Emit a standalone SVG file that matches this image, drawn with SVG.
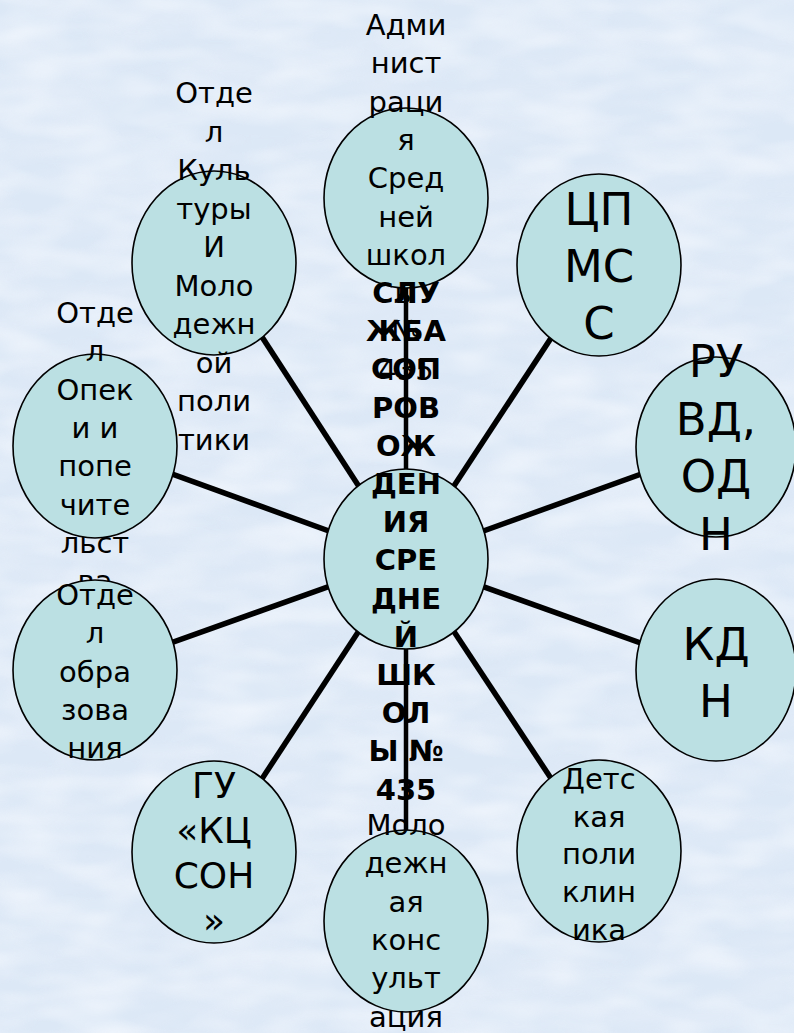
<svg xmlns="http://www.w3.org/2000/svg" width="794" height="1033" viewBox="0 0 794 1033">
<defs>
<filter id="tex" x="0" y="0" width="100%" height="100%">
<feTurbulence type="fractalNoise" baseFrequency="0.01 0.035" numOctaves="3" seed="7" result="n"/>
<feColorMatrix in="n" type="matrix" values="0 0 0 0 0.80  0 0 0 0 0.86  0 0 0 0 0.95  0 0 0 1.6 -0.55"/>
</filter>
<filter id="tex2" x="0" y="0" width="100%" height="100%">
<feTurbulence type="fractalNoise" baseFrequency="0.015 0.04" numOctaves="2" seed="3" result="n"/>
<feColorMatrix in="n" type="matrix" values="0 0 0 0 0.93  0 0 0 0 0.96  0 0 0 0 1  0 0 0 1.6 -0.6"/>
</filter>
<style>
.node{fill:#bbe0e3;stroke:#000;stroke-width:1.6}
.t{font-family:"DejaVu Sans","Liberation Sans",sans-serif;font-size:29px;fill:#000;text-anchor:middle}
.b{font-weight:bold}
.big{font-size:45px}
.mid{font-size:36px}
.con line{stroke:#000;stroke-width:5.5}
</style>
</defs>
<rect width="794" height="1033" fill="#dce8f6"/>
<rect width="794" height="1033" filter="url(#tex)" opacity="0.7"/>
<rect width="794" height="1033" filter="url(#tex2)" opacity="0.7"/>
<g class="con">
<line x1="406" y1="559" x2="214" y2="263"/>
<line x1="406" y1="559" x2="599" y2="265"/>
<line x1="406" y1="559" x2="716" y2="447"/>
<line x1="406" y1="559" x2="716" y2="670"/>
<line x1="406" y1="559" x2="599" y2="851"/>
<line x1="406" y1="559" x2="214" y2="852"/>
<line x1="406" y1="559" x2="95" y2="446"/>
<line x1="406" y1="559" x2="95" y2="670"/>
<line x1="406" y1="198" x2="406" y2="921" style="stroke-width:4.5"/>
</g>
<g id="admin">
<ellipse class="node" cx="406" cy="198" rx="82" ry="90"/>
<text class="t" x="406" y="35"><tspan x="406">Адми</tspan><tspan x="406" dy="38.3">нист</tspan><tspan x="406" dy="38.3">раци</tspan><tspan x="406" dy="38.3">я</tspan><tspan x="406" dy="38.3">Сред</tspan><tspan x="406" dy="38.3">ней</tspan><tspan x="406" dy="38.3">школ</tspan><tspan x="406" dy="38.3">ы</tspan><tspan x="406" dy="38.3">№</tspan><tspan x="406" dy="38.3">435</tspan></text>
</g>
<g id="culture">
<ellipse class="node" cx="214" cy="263" rx="82" ry="92"/>
<text class="t" x="214" y="103"><tspan x="214">Отде</tspan><tspan x="214" dy="38.5">л</tspan><tspan x="214" dy="38.5">Куль</tspan><tspan x="214" dy="38.5">туры</tspan><tspan x="214" dy="38.5">И</tspan><tspan x="214" dy="38.5">Моло</tspan><tspan x="214" dy="38.5">дежн</tspan><tspan x="214" dy="38.5">ой</tspan><tspan x="214" dy="38.5">поли</tspan><tspan x="214" dy="38.5">тики</tspan></text>
</g>
<g id="cpmss">
<ellipse class="node" cx="599" cy="265" rx="82" ry="91"/>
<text class="t big" x="599" y="225"><tspan x="599">ЦП</tspan><tspan x="599" dy="57">МС</tspan><tspan x="599" dy="57">С</tspan></text>
</g>
<g id="opeka">
<ellipse class="node" cx="95" cy="446" rx="82" ry="92"/>
<text class="t" x="95" y="323"><tspan x="95">Отде</tspan><tspan x="95" dy="38.3">л</tspan><tspan x="95" dy="38.3">Опек</tspan><tspan x="95" dy="38.3">и и</tspan><tspan x="95" dy="38.3">попе</tspan><tspan x="95" dy="38.3">чите</tspan><tspan x="95" dy="38.3">льст</tspan><tspan x="95" dy="38.3">ва</tspan></text>
</g>
<g id="ruvd">
<ellipse class="node" cx="716" cy="447" rx="80" ry="90"/>
<text class="t big" x="716" y="377"><tspan x="716">РУ</tspan><tspan x="716" dy="57.5">ВД,</tspan><tspan x="716" dy="57.5">ОД</tspan><tspan x="716" dy="57.5">Н</tspan></text>
</g>
<g id="center">
<ellipse class="node" cx="406" cy="559" rx="82" ry="90"/>
<text class="t b" x="406" y="303"><tspan x="406">СЛУ</tspan><tspan x="406" dy="38.2">ЖБА</tspan><tspan x="406" dy="38.2">СОП</tspan><tspan x="406" dy="38.2">РОВ</tspan><tspan x="406" dy="38.2">ОЖ</tspan><tspan x="406" dy="38.2">ДЕН</tspan><tspan x="406" dy="38.2">ИЯ</tspan><tspan x="406" dy="38.2">СРЕ</tspan><tspan x="406" dy="38.2">ДНЕ</tspan><tspan x="406" dy="38.2">Й</tspan><tspan x="406" dy="38.2">ШК</tspan><tspan x="406" dy="38.2">ОЛ</tspan><tspan x="406" dy="38.2">Ы №</tspan><tspan x="406" dy="38.2">435</tspan></text>
</g>
<g id="obraz">
<ellipse class="node" cx="95" cy="670" rx="82" ry="90"/>
<text class="t" x="95" y="605"><tspan x="95">Отде</tspan><tspan x="95" dy="38.3">л</tspan><tspan x="95" dy="38.3">обра</tspan><tspan x="95" dy="38.3">зова</tspan><tspan x="95" dy="38.3">ния</tspan></text>
</g>
<g id="kdn">
<ellipse class="node" cx="716" cy="670" rx="80" ry="91"/>
<text class="t big" x="716" y="660"><tspan x="716">КД</tspan><tspan x="716" dy="57">Н</tspan></text>
</g>
<g id="gu">
<ellipse class="node" cx="214" cy="852" rx="82" ry="91"/>
<text class="t mid" x="214" y="798"><tspan x="214">ГУ</tspan><tspan x="214" dy="45">«КЦ</tspan><tspan x="214" dy="45">СОН</tspan><tspan x="214" dy="45">»</tspan></text>
</g>
<g id="molod">
<ellipse class="node" cx="406" cy="921" rx="82" ry="91"/>
<text class="t" x="406" y="835"><tspan x="406">Моло</tspan><tspan x="406" dy="38.3">дежн</tspan><tspan x="406" dy="38.3">ая</tspan><tspan x="406" dy="38.3">конс</tspan><tspan x="406" dy="38.3">ульт</tspan><tspan x="406" dy="38.3">ация</tspan></text>
</g>
<g id="detskaya">
<ellipse class="node" cx="599" cy="851" rx="82" ry="91"/>
<text class="t" x="599" y="789"><tspan x="599">Детс</tspan><tspan x="599" dy="37.7">кая</tspan><tspan x="599" dy="37.7">поли</tspan><tspan x="599" dy="37.7">клин</tspan><tspan x="599" dy="37.7">ика</tspan></text>
</g>
</svg>
